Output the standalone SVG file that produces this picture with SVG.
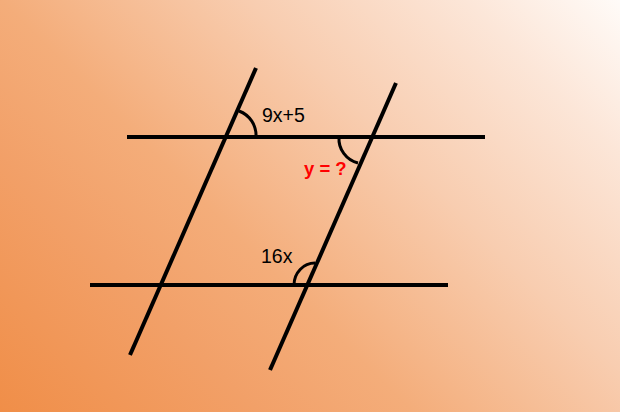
<svg xmlns="http://www.w3.org/2000/svg" width="620" height="412" viewBox="0 0 620 412">
<defs>
<linearGradient id="bg" gradientUnits="userSpaceOnUse" x1="0" y1="412" x2="516" y2="-104">
<stop offset="0" stop-color="#F08E48"/>
<stop offset="0.25" stop-color="#F2A068"/>
<stop offset="0.4" stop-color="#F4AD7A"/>
<stop offset="0.64" stop-color="#F8CDB0"/>
<stop offset="0.85" stop-color="#FCE6D8"/>
<stop offset="1" stop-color="#FFFBF8"/>
</linearGradient>
<style>
.ln{stroke:#000;stroke-width:4;fill:none}
.arc{stroke:#000;stroke-width:3;fill:none}
.lbl{font-family:"Liberation Sans",Arial,sans-serif;font-size:19.5px;fill:#000}
.q{font-family:"Liberation Sans",Arial,sans-serif;font-size:18.5px;font-weight:bold;fill:#FF0000}
</style>
</defs>
<rect width="620" height="412" fill="url(#bg)"/>
<g id="connectors">
<line class="ln" x1="127" y1="137" x2="485" y2="137"/>
<line class="ln" x1="90" y1="285" x2="448" y2="285"/>
<line class="ln" x1="256" y1="68" x2="130" y2="355"/>
<line class="ln" x1="396" y1="83" x2="270" y2="370"/>
</g>
<g id="angle-9x5">
<path class="arc" d="M239,111 A26,26 0 0 1 256,137"/>
<text class="lbl" x="262" y="122">9x+5</text>
</g>
<g id="angle-y">
<path class="arc" d="M339,137 A25,25 0 0 0 358,163"/>
<text class="q" x="304" y="175">y = ?</text>
</g>
<g id="angle-16x">
<path class="arc" d="M294,285 A21,22 0 0 1 315,263"/>
<text class="lbl" x="261" y="263">16x</text>
</g>
</svg>
